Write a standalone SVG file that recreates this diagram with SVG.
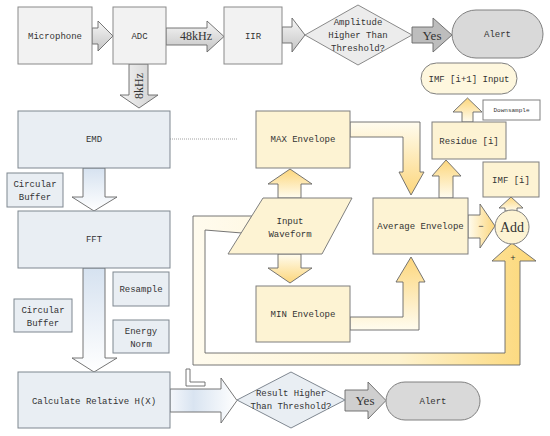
<svg xmlns="http://www.w3.org/2000/svg" width="550" height="436" viewBox="0 0 550 436">
<defs>
<linearGradient id="gGray" x1="0" y1="0" x2="0" y2="1"><stop offset="0" stop-color="#f7f7f7"/><stop offset="1" stop-color="#c4c4c4"/></linearGradient>
<linearGradient id="gGrayH" x1="0" y1="0" x2="1" y2="0"><stop offset="0" stop-color="#f4f4f4"/><stop offset="1" stop-color="#cfcfcf"/></linearGradient>
<linearGradient id="gBlueV" x1="0" y1="0" x2="0" y2="1"><stop offset="0" stop-color="#d6e2f0"/><stop offset="1" stop-color="#ffffff"/></linearGradient>
<linearGradient id="gBlueH" x1="0" y1="0" x2="1" y2="0"><stop offset="0" stop-color="#f4f7fb"/><stop offset="0.35" stop-color="#d9e4f1"/><stop offset="1" stop-color="#ffffff"/></linearGradient>
<linearGradient id="gYelV" x1="0" y1="0" x2="0" y2="1"><stop offset="0" stop-color="#fffcef"/><stop offset="1" stop-color="#fcd67c"/></linearGradient>
<linearGradient id="gYelUp" x1="0" y1="1" x2="0" y2="0"><stop offset="0" stop-color="#fffcef"/><stop offset="1" stop-color="#fcd67c"/></linearGradient>
<linearGradient id="gYelH" x1="0" y1="0" x2="1" y2="0"><stop offset="0" stop-color="#fffcef"/><stop offset="1" stop-color="#fcd67c"/></linearGradient>
<linearGradient id="gLoop" gradientUnits="userSpaceOnUse" x1="193" y1="0" x2="536" y2="0"><stop offset="0" stop-color="#fffbee"/><stop offset="0.6" stop-color="#fef3cf"/><stop offset="1" stop-color="#fcd777"/></linearGradient>
</defs>
<style>
.t{font-family:"Liberation Mono","DejaVu Sans Mono",monospace;font-size:9px;fill:#333;text-anchor:middle}
.big{font-family:"Liberation Serif","DejaVu Serif",serif;fill:#333;text-anchor:middle}
.gray{fill:#f2f2f2;stroke:#8a8a8a;stroke-width:1}
.blue{fill:#e9eef3;stroke:#7f8790;stroke-width:1}
.yel{fill:#fdf3d3;stroke:#7f7f7f;stroke-width:1}
.arr{stroke:#666;stroke-width:0.9;stroke-linejoin:miter}
</style>
<rect width="550" height="436" fill="#ffffff"/>

<g id="connectors">
<polygon class="arr" fill="url(#gLoop)" points="252,216 193,216 193,365 520,365 520,261 536,261 512,243 492,261 505,261 505,353 205,353 205,230 242,233"/>
<polygon class="arr" fill="url(#gGray)" points="92,28 98,28 98,21 113,36 98,51 98,44 92,44"/>
<polygon class="arr" fill="url(#gGray)" points="166,28 207,28 207,21 224,36.5 207,52 207,45 166,45"/>
<polygon class="arr" fill="url(#gGray)" points="282,27 292,27 292,18 305,35 292,52 292,43 282,43"/>
<polygon class="arr" fill="#bdbdbd" points="412,27 433,27 433,18 452,35 433,52 433,43 412,43"/>
<polygon class="arr" fill="url(#gGrayH)" points="129,64 148,64 148,95 158,95 139,108 120,95 129,95"/>
<line x1="170" y1="139" x2="238" y2="139" stroke="#888" stroke-width="0.8" stroke-dasharray="1,1"/>
<polygon class="arr" fill="url(#gBlueV)" points="83,168 105,168 105,197 117,197 94,211 72,197 83,197"/>
<polygon class="arr" fill="url(#gBlueV)" points="83,268 105,268 105,358 117,358 94,372 72,358 83,358"/>
<polygon class="arr" fill="url(#gBlueH)" points="170,389 221,389 221,378 237,400.5 221,423 221,412 170,412"/>
<polygon class="arr" fill="#cfcfcf" points="345,390 368,390 368,382 386,400.5 368,419 368,411 345,411"/>
<polygon class="arr" fill="url(#gYelUp)" points="278,198 278,184 268,184 290,169 312,184 301,184 301,198"/>
<polygon class="arr" fill="url(#gYelV)" points="278,254 301,254 301,268 312,268 290,283 268,268 278,268"/>
<polygon class="arr" fill="url(#gYelV)" points="350,122 420,122 420,172 424,172 411,195 399,172 403,172 403,137 350,137"/>
<polygon class="arr" fill="url(#gYelUp)" points="350,317 403,317 403,282 396,282 411,257 425,282 419,282 419,330 350,330"/>
<polygon class="arr" fill="url(#gYelUp)" points="439,198 439,176 432,176 446,160 461,176 453,176 453,198"/>
<polygon class="arr" fill="url(#gYelUp)" points="462,122 462,112 453,112 467.5,98 482,112 473,112 473,122"/>
<polygon class="arr" fill="url(#gYelUp)" points="505,211 505,208 499,208 511,197 523,208 517,208 517,211"/>
<polygon class="arr" fill="url(#gYelH)" points="468,215 480,215 480,204 495,226 480,248 480,238 468,238"/>
<path d="M186,369 h4 v13 h15 v4 h-19 z" fill="#ffffff" stroke="#666" stroke-width="0.9"/>
<text class="big" x="196" y="40" font-size="12">48kHz</text>
<text class="big" x="432" y="40" font-size="13">Yes</text>
<text class="big" x="365" y="405" font-size="13">Yes</text>
<text class="big" font-size="12" transform="translate(143,86) rotate(-90)">8kHz</text>
<text class="t" x="481" y="229">−</text>
<text class="t" x="513" y="261">+</text>
</g>

<g id="microphone"><rect class="gray" x="18" y="7" width="74" height="57"/><text class="t" x="55" y="39">Microphone</text></g>
<g id="adc"><rect class="gray" x="113" y="7" width="53" height="57"/><text class="t" x="139.5" y="39">ADC</text></g>
<g id="iir"><rect class="gray" x="224" y="7" width="58" height="57"/><text class="t" x="253" y="39">IIR</text></g>
<g id="amplitude-check"><polygon class="gray" fill="#ececec" style="fill:#ececec" points="305,35 358,5 412,35 358,65"/>
<text class="t" x="358" y="25">Amplitude</text><text class="t" x="358" y="38">Higher Than</text><text class="t" x="358" y="51">Threshold?</text></g>
<g id="alert1"><rect x="452" y="10" width="91" height="48" rx="24" fill="#d9d9d9" stroke="#808080"/><text class="t" x="497.5" y="37">Alert</text></g>

<g id="emd"><rect class="blue" x="18" y="111" width="152" height="57"/><text class="t" x="94" y="142">EMD</text></g>
<g id="circular-buffer1"><rect class="blue" x="7" y="173" width="56" height="34"/><text class="t" x="35" y="187">Circular</text><text class="t" x="35" y="200">Buffer</text></g>
<g id="fft"><rect class="blue" x="18" y="211" width="152" height="57"/><text class="t" x="94" y="242">FFT</text></g>
<g id="resample"><rect class="blue" x="113" y="272" width="56" height="34"/><text class="t" x="141" y="292">Resample</text></g>
<g id="energy-norm"><rect class="blue" x="113" y="320" width="56" height="33"/><text class="t" x="141" y="334">Energy</text><text class="t" x="141" y="347">Norm</text></g>
<g id="circular-buffer2"><rect class="blue" x="14" y="299" width="58" height="33"/><text class="t" x="43" y="313">Circular</text><text class="t" x="43" y="326">Buffer</text></g>
<g id="calculate"><rect class="blue" x="18" y="372" width="152" height="56"/><text class="t" x="94" y="404">Calculate Relative H(X)</text></g>
<g id="result-check"><polygon class="blue" points="237,400 291,372 345,400 291,428"/>
<text class="t" x="291" y="396">Result Higher</text><text class="t" x="291" y="409">Than Threshold?</text></g>
<g id="alert2"><rect x="386" y="382" width="94" height="38" rx="19" fill="#d9d9d9" stroke="#808080"/><text class="t" x="433" y="404">Alert</text></g>

<g id="max-envelope"><rect class="yel" x="256" y="111" width="94" height="57"/><text class="t" x="303" y="142">MAX Envelope</text></g>
<g id="input-waveform"><polygon class="yel" points="263,198 352,198 322,254 228,254"/><text class="t" x="290" y="224">Input</text><text class="t" x="290" y="237">Waveform</text></g>
<g id="min-envelope"><rect class="yel" x="256" y="286" width="94" height="56"/><text class="t" x="303" y="317">MIN Envelope</text></g>
<g id="average-envelope"><rect class="yel" x="373" y="198" width="95" height="56"/><text class="t" x="420.5" y="229">Average Envelope</text></g>
<g id="residue"><rect class="yel" x="432" y="122" width="74" height="37"/><text class="t" x="469" y="144">Residue [i]</text></g>
<g id="downsample"><rect x="483" y="100" width="57" height="20" fill="#ffffff" stroke="#808080"/><text class="t" style="font-size:6px" x="511.5" y="112">Downsample</text></g>
<g id="imf-next"><rect x="421" y="63" width="96" height="31" rx="15.5" fill="#fef7de" stroke="#7f7f7f"/><text class="t" x="469" y="82">IMF [i+1] Input</text></g>
<g id="imf"><rect class="yel" x="483" y="162" width="56" height="35"/><text class="t" x="511" y="183">IMF [i]</text></g>
<g id="add"><circle cx="512" cy="227" r="17" fill="#fdf3d3" stroke="#7f7f7f"/><text class="big" x="512" y="232" font-size="14">Add</text></g>
</svg>
